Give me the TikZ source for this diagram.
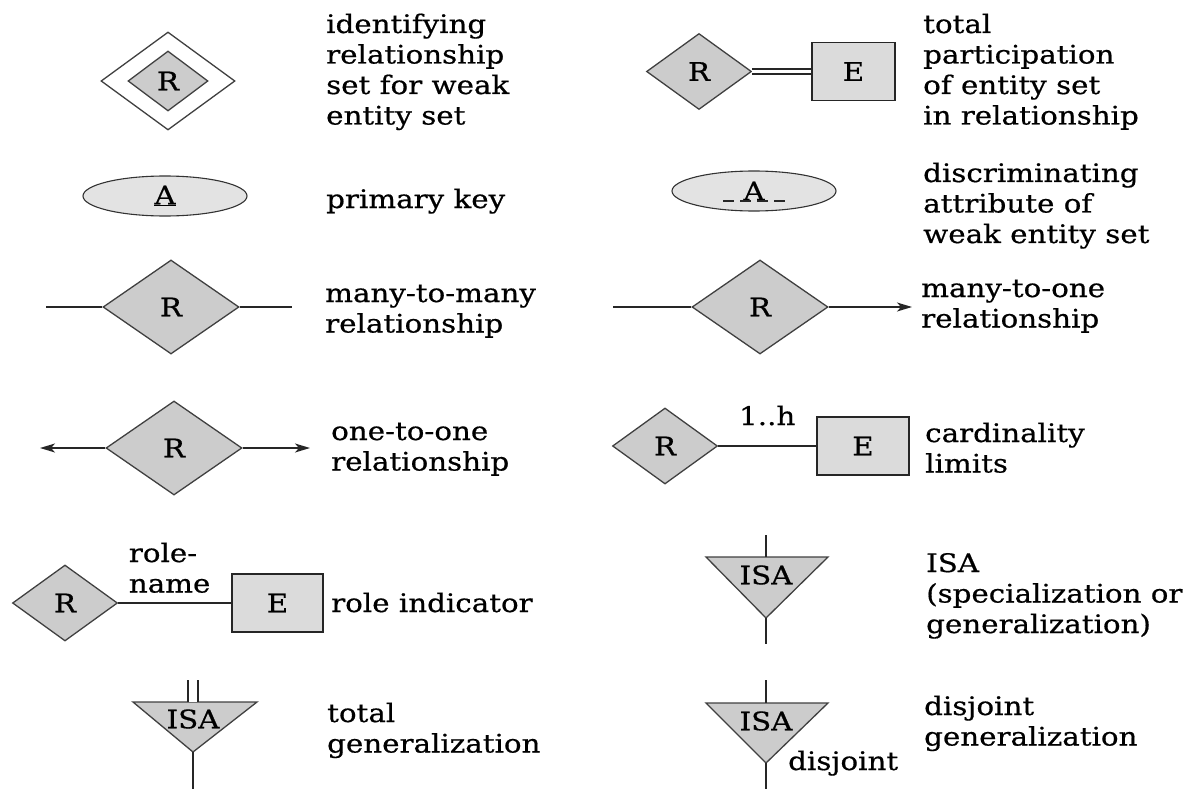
\documentclass[tikz,border=0pt]{standalone}
\usepackage{fontspec}
\setmainfont{DejaVu Serif}[FakeStretch=1.15,FakeBold=0.6]
\usetikzlibrary{shapes.geometric,arrows.meta,calc}
\newcommand\lns[1]{\begin{tabular}[t]{@{}l@{}}#1\end{tabular}}
\begin{document}
\begin{tikzpicture}[x=1pt,y=-1pt,
  every node/.style={font=\fontsize{25.5}{30.5}\selectfont},
  ln/.style={line width=1.4pt, draw=black!85},
  rel/.style={shape=diamond, draw=black!75, line width=1.3pt, fill=gray!40, inner sep=0pt},
  bigrel/.style={rel, minimum width=136pt, minimum height=94pt},
  smallrel/.style={rel, minimum width=105pt, minimum height=76pt},
  ent/.style={draw=black!85, line width=1.4pt, fill=gray!28, inner sep=0pt, minimum height=58pt},
  attr/.style={ellipse, draw=black!80, line width=1.1pt, fill=gray!22, inner sep=0pt, minimum width=164pt, minimum height=40pt},
  desc/.style={anchor=base west, inner sep=0pt},
  isa/.style={draw=black!75, line width=1.3pt, fill=gray!40},
  arr/.style={ln, -{Stealth[length=15pt,width=9pt,inset=4pt]}},
]
\useasboundingbox (0,0) rectangle (1202,789);

% identifying relationship set
\node[rel, fill=white, minimum width=134pt, minimum height=98pt] (wo) at (168,81) {};
\node[rel, minimum width=80pt, minimum height=60pt] (wi) at (168,81) {R};
\node[desc] (d1) at (326,33) {\lns{identifying\\relationship\\set for weak\\entity set}};

% primary key
\node[attr] (pk) at (165,196) {\underline{A}};
\node[desc] (d2) at (326,208) {primary key};

% total participation
\node[smallrel] (tpR) at (699,71.5) {R};
\node[ent, minimum width=83pt] (tpE) at (853.5,71.5) {E};
\draw[ln, double, double distance=3.6pt] (tpR.east) -- (tpE.west);
\node[desc] (d3) at (923,33) {\lns{total\\participation\\of entity set\\in relationship}};

% discriminating attribute
\node[attr] (da) at (754,191) {A};
\draw[line width=1.3pt, draw=black!85, dash pattern=on 11pt off 6pt] ($(da.center)+(-31,10)$) -- ($(da.center)+(33,10)$);
\node[desc] (d4) at (923,182) {\lns{discriminating\\attribute of\\weak entity set}};

% many-to-many
\node[bigrel] (mm) at (171,307) {R};
\coordinate (mmL) at (46,307);
\coordinate (mmR) at (292,307);
\draw[ln] (mmL) -- (mm.west);
\draw[ln] (mm.east) -- (mmR);
\node[desc] (d5) at (325,302) {\lns{many-to-many\\relationship}};

% many-to-one
\node[bigrel] (mo) at (760,307) {R};
\coordinate (moL) at (613,307);
\coordinate (moR) at (912,307);
\draw[ln] (moL) -- (mo.west);
\draw[arr] (mo.east) -- (moR);
\node[desc] (d6) at (921,297) {\lns{many-to-one\\relationship}};

% one-to-one
\node[bigrel] (oo) at (174,448) {R};
\coordinate (ooL) at (40,448);
\coordinate (ooR) at (310,448);
\draw[arr] (oo.west) -- (ooL);
\draw[arr] (oo.east) -- (ooR);
\node[desc] (d7) at (331,440) {\lns{one-to-one\\relationship}};

% cardinality limits
\node[smallrel] (cR) at (665,446) {R};
\node[ent, minimum width=92pt] (cE) at (863,446) {E};
\draw[ln] (cR.east) -- node[anchor=base, yshift=21pt, inner sep=0pt] (lh) {1..h} (cE.west);
\node[desc] (d8) at (925,442) {\lns{cardinality\\limits}};

% role indicator
\node[smallrel] (rR) at (65,603) {R};
\node[ent, minimum width=91pt] (rE) at (277.5,603) {E};
\draw[ln] (rR.east) -- node[pos=0, anchor=base west, xshift=10pt, yshift=41pt, inner sep=0pt] (rn) {\lns{role-\\name}} (rE.west);
\node[desc] (d9) at (331,612) {role indicator};

% total generalization
\path[isa] (133,702) -- (257,702) -- (193,752) -- cycle;
\coordinate (t1top) at (193,702);
\coordinate (t1apex) at (193,752);
\coordinate (t1up) at (193,680);
\coordinate (t1down) at (193,789);
\node[inner sep=0pt] (t1) at (193,719) {ISA};
\draw[ln, double, double distance=8.6pt] (t1up) -- (t1top);
\draw[ln] (t1apex) -- (t1down);
\node[desc] (d10) at (327,722) {\lns{total\\generalization}};

% ISA
\path[isa] (706,557) -- (828,557) -- (766,618) -- cycle;
\coordinate (t2top) at (766,557);
\coordinate (t2apex) at (766,618);
\coordinate (t2up) at (766,535);
\coordinate (t2down) at (766,644);
\node[inner sep=0pt] (t2) at (766,575) {ISA};
\draw[ln] (t2up) -- (t2top);
\draw[ln] (t2apex) -- (t2down);
\node[desc] (d11) at (926,572) {\lns{ISA\\(specialization or\\generalization)}};

% disjoint generalization
\path[isa] (706,703) -- (828,703) -- (766,763) -- cycle;
\coordinate (t3top) at (766,703);
\coordinate (t3apex) at (766,763);
\coordinate (t3up) at (766,680);
\coordinate (t3down) at (766,789);
\node[inner sep=0pt] (t3) at (766,721) {ISA};
\draw[ln] (t3up) -- (t3top);
\draw[ln] (t3apex) -- (t3down);
\node[desc] (dj) at (788,770) {disjoint};
\node[desc] (d12) at (924,715) {\lns{disjoint\\generalization}};
\end{tikzpicture}
\end{document}
